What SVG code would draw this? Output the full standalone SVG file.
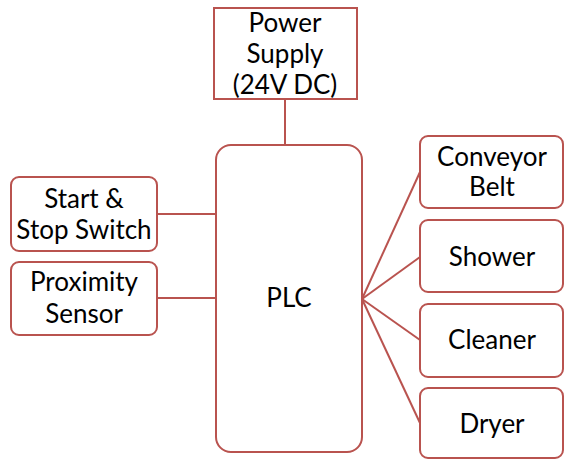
<svg xmlns="http://www.w3.org/2000/svg" width="565" height="459" viewBox="0 0 565 459">
<style>
.box{fill:#fff;stroke:#b9534f;stroke-width:2}
.ln{stroke:#b9534f;stroke-width:2;fill:none}
text{font-family:Lato,"Liberation Sans",sans-serif;font-size:26px;fill:#000;text-anchor:middle}
</style>
<rect width="565" height="459" fill="#fff"/>
<g id="connectors">
<line class="ln" x1="285" y1="99" x2="285" y2="145"/>
<line class="ln" x1="157" y1="214" x2="216" y2="214"/>
<line class="ln" x1="157" y1="298" x2="216" y2="298"/>
<line class="ln" x1="362" y1="299" x2="420" y2="172"/>
<line class="ln" x1="362" y1="299" x2="420" y2="257"/>
<line class="ln" x1="362" y1="299" x2="420" y2="340"/>
<line class="ln" x1="362" y1="299" x2="420" y2="423"/>
</g>
<g id="power">
<rect class="box" x="214" y="8" width="143" height="91"/>
<text x="285" y="32">Power</text>
<text x="285" y="63">Supply</text>
<text x="285" y="94">(24V DC)</text>
</g>
<g id="plc">
<rect class="box" x="216" y="145" width="146" height="307" rx="15"/>
<text x="289" y="307">PLC</text>
</g>
<g id="startstop">
<rect class="box" x="11" y="177" width="146" height="74" rx="8"/>
<text x="84" y="208">Start &amp;</text>
<text x="84" y="239">Stop Switch</text>
</g>
<g id="proximity">
<rect class="box" x="11" y="262" width="146" height="73" rx="8"/>
<text x="84" y="291">Proximity</text>
<text x="84" y="323">Sensor</text>
</g>
<g id="conveyor">
<rect class="box" x="420" y="136" width="143" height="72" rx="8"/>
<text x="492" y="166">Conveyor</text>
<text x="492" y="196">Belt</text>
</g>
<g id="shower">
<rect class="box" x="420" y="220" width="143" height="72" rx="8"/>
<text x="492" y="266">Shower</text>
</g>
<g id="cleaner">
<rect class="box" x="420" y="304" width="143" height="73" rx="8"/>
<text x="492" y="349">Cleaner</text>
</g>
<g id="dryer">
<rect class="box" x="420" y="388" width="143" height="70" rx="8"/>
<text x="492" y="433">Dryer</text>
</g>
</svg>
